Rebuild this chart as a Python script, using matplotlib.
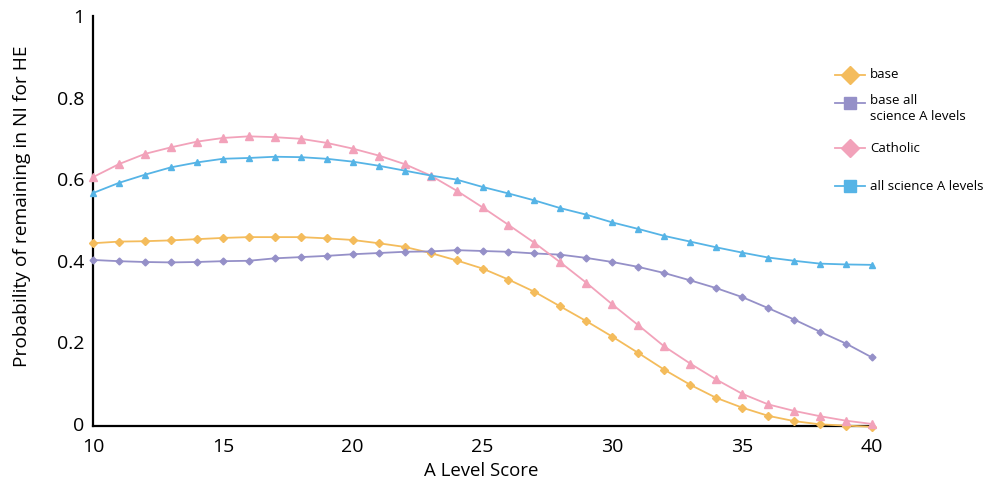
import numpy as np
import matplotlib
matplotlib.use("Agg")
import matplotlib.pyplot as plt
from matplotlib.lines import Line2D

plt.rcParams['font.family'] = ['Open Sans', 'DejaVu Sans']

score = list(range(10, 41))

base = [0.443, 0.447, 0.448, 0.450, 0.453, 0.456, 0.458, 0.458, 0.458, 0.455,
        0.451, 0.443, 0.434, 0.419, 0.401, 0.381, 0.354, 0.324, 0.288, 0.252,
        0.214, 0.174, 0.133, 0.096, 0.064, 0.040, 0.020, 0.007, -0.001, -0.004,
        -0.007]
base_sci = [0.402, 0.399, 0.397, 0.396, 0.397, 0.399, 0.400, 0.406, 0.409, 0.412,
            0.416, 0.419, 0.422, 0.423, 0.426, 0.424, 0.422, 0.418, 0.415, 0.407,
            0.397, 0.385, 0.370, 0.352, 0.333, 0.311, 0.284, 0.256, 0.226, 0.197,
            0.163]
catholic = [0.605, 0.637, 0.662, 0.678, 0.692, 0.701, 0.705, 0.703, 0.699, 0.689,
            0.675, 0.658, 0.637, 0.609, 0.572, 0.531, 0.488, 0.444, 0.396, 0.346,
            0.293, 0.242, 0.190, 0.148, 0.109, 0.074, 0.048, 0.032, 0.019, 0.008,
            0.000]
all_sci = [0.566, 0.591, 0.611, 0.629, 0.641, 0.650, 0.652, 0.655, 0.654, 0.650,
           0.643, 0.633, 0.621, 0.609, 0.599, 0.581, 0.565, 0.548, 0.529, 0.513,
           0.494, 0.478, 0.461, 0.447, 0.433, 0.420, 0.408, 0.400, 0.393, 0.391,
           0.390]

c_base = "#F4BC5C"
c_base_sci = "#9590C8"
c_cath = "#F2A2BA"
c_sci = "#56B4E6"

fig = plt.figure(figsize=(9.89, 4.87), dpi=100)
ax = fig.add_axes([93 / 989, 1 - 426 / 487, (872 - 93) / 989, (426 - 16) / 487])

ax.plot(score, base, color=c_base, lw=1.3, marker="D", ms=4.5, clip_on=False, zorder=3)
ax.plot(score, base_sci, color=c_base_sci, lw=1.3, marker="D", ms=3.5, clip_on=False, zorder=3)
ax.plot(score, catholic, color=c_cath, lw=1.3, marker="^", ms=5.5, clip_on=False, zorder=3)
ax.plot(score, all_sci, color=c_sci, lw=1.3, marker="^", ms=5, clip_on=False, zorder=3)

ax.set_xlim(10, 40)
ax.set_ylim(-0.005, 1.0)
ax.set_xticks([10, 15, 20, 25, 30, 35, 40])
ax.set_yticks([0, 0.2, 0.4, 0.6, 0.8, 1])
ax.set_yticklabels(["0", "0.2", "0.4", "0.6", "0.8", "1"])
ax.tick_params(length=0, labelsize=14)
ax.tick_params(axis="x", pad=9)
ax.tick_params(axis="y", pad=6)
for s in ["top", "right"]:
    ax.spines[s].set_visible(False)
for s in ["left", "bottom"]:
    ax.spines[s].set_linewidth(1.6)
    ax.spines[s].set_color("black")

fig.text(481 / 989, 1 - 471 / 487, "A Level Score", ha="center", va="center", fontsize=13.4)
fig.text(22 / 989, 1 - 206 / 487, "Probability of remaining in NI for HE",
         ha="center", va="center", rotation=90, fontsize=13.8)

# legend drawn by hand to match the uneven spacing
entries = [
    (c_base, "D", "base", 75),
    (c_base_sci, "s", "base all\nscience A levels", 103),
    (c_cath, "D", "Catholic", 148),
    (c_sci, "s", "all science A levels", 186),
]
for col, mk, lab, ypx in entries:
    yf = 1 - ypx / 487
    fig.add_artist(Line2D([835 / 989, 865 / 989], [yf, yf], color=col, lw=1.3))
    fig.add_artist(Line2D([850 / 989], [yf], color=col, marker=mk, ms=9, lw=0))
    if "\n" in lab:
        fig.text(870 / 989, yf + 9 / 487, lab, ha="left", va="top", fontsize=9.5,
                 linespacing=1.35)
    else:
        fig.text(870 / 989, yf, lab, ha="left", va="center", fontsize=9.5)

fig.savefig("out.png", dpi=100)
